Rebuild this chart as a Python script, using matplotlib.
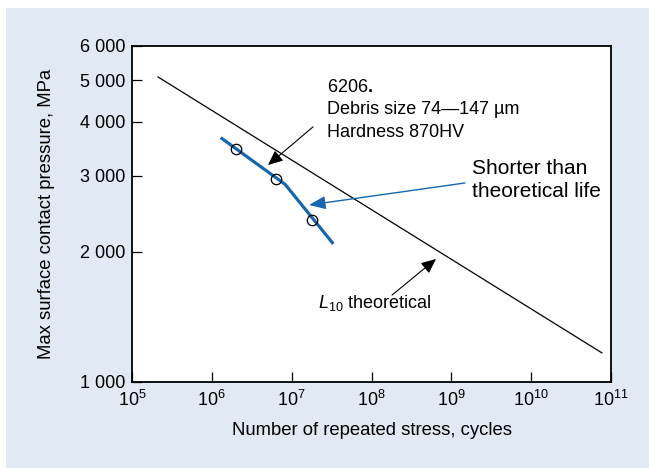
import matplotlib
matplotlib.use("Agg")
import matplotlib.pyplot as plt
from matplotlib.patches import Rectangle
from matplotlib.ticker import FixedLocator, NullLocator, FuncFormatter

plt.rcParams['font.family'] = ['Liberation Sans', 'DejaVu Sans']
plt.rcParams['mathtext.fontset'] = 'custom'
plt.rcParams['mathtext.rm'] = 'Liberation Sans'
plt.rcParams['mathtext.it'] = 'Liberation Sans:italic'
plt.rcParams['mathtext.bf'] = 'Liberation Sans:bold'

# L10 theoretical life line (cycles, MPa)
theory_cycles = [2.12e5, 7.7e10]
theory_pressure = [5085, 1165]

# measured life with debris contamination
test_cycles = [1.29e6, 8.26e6, 3.33e7]
test_pressure = [3678, 2867, 2085]
point_cycles = [2.01e6, 6.43e6, 1.78e7]
point_pressure = [3456, 2949, 2366]

x_ticks = [1e5, 1e6, 1e7, 1e8, 1e9, 1e10, 1e11]
y_ticks = [1000, 2000, 3000, 4000, 5000, 6000]

BLUE = '#1766b0'
PANEL = '#e1e9f4'

fig = plt.figure(figsize=(6.49, 4.68), dpi=100)
fig.patches.append(Rectangle((6 / 649, 0), 1 - 6 / 649, 460 / 468,
                             transform=fig.transFigure, facecolor=PANEL,
                             edgecolor='none', zorder=-1))

ax = fig.add_axes([132 / 649, 1 - 381.5 / 468, 479 / 649, 335.5 / 468])
ax.set_facecolor('white')
ax.set_xscale('log')
ax.set_yscale('log')
ax.set_xlim(x_ticks[0], x_ticks[-1])
ax.set_ylim(y_ticks[0], y_ticks[-1])

ax.plot(theory_cycles, theory_pressure, color='black', lw=0.9)
ax.plot(test_cycles, test_pressure, color=BLUE, lw=2.3, solid_capstyle='butt')
ax.plot(point_cycles, point_pressure, 'o', ms=7.5, mfc='none', mec='black',
        mew=0.9)

ax.xaxis.set_major_locator(FixedLocator(x_ticks))
ax.xaxis.set_minor_locator(NullLocator())
ax.yaxis.set_major_locator(FixedLocator(y_ticks))
ax.yaxis.set_minor_locator(NullLocator())
ax.yaxis.set_major_formatter(FuncFormatter(lambda v, p: f"{int(v):,}".replace(",", " ")))
ax.tick_params(direction='in', length=7, width=0.9, labelsize=13, pad=5)
ax.tick_params(axis='x', pad=6)
for s in ax.spines.values():
    s.set_linewidth(1.3)

ax.set_xlabel("Number of repeated stress, cycles", fontsize=13.3)
ax.set_ylabel("Max surface contact pressure, MPa", fontsize=13.3)
ax.xaxis.set_label_coords(0.5, -0.122)
ax.yaxis.set_label_coords(-0.16, 0.5)

# bearing / test conditions
info = ["6206$\\mathbf{.}$", "Debris size 74\u2014147 \u00b5m", "Hardness 870HV"]
for i, line in enumerate(info):
    ax.annotate(line, xy=(2.77e7, 4873), xytext=(0, -1.5 - 16.4 * i),
                textcoords='offset points', fontsize=13, va='center', ha='left')

ax.annotate("", xy=(5.06e6, 3178), xytext=(1.85e7, 3895),
            arrowprops=dict(arrowstyle='-|>,head_length=0.45,head_width=0.2',
                            color='black', lw=0.8, shrinkA=0, shrinkB=0,
                            mutation_scale=20))

ax.text(1.82e9, 2934, "Shorter than\ntheoretical life", fontsize=15,
        va='center', ha='left', linespacing=1.25)
ax.annotate("", xy=(1.65e7, 2567), xytext=(1.48e9, 2887),
            arrowprops=dict(arrowstyle='-|>,head_length=0.5,head_width=0.2',
                            color=BLUE, lw=1.0, shrinkA=0, shrinkB=0,
                            mutation_scale=20))

ax.text(2.14e7, 1520, "$L_{10}$ theoretical", fontsize=13, va='center',
        ha='left')
ax.annotate("", xy=(6.43e8, 1924), xytext=(1.81e8, 1587),
            arrowprops=dict(arrowstyle='-|>,head_length=0.45,head_width=0.2',
                            color='black', lw=0.8, shrinkA=0, shrinkB=0,
                            mutation_scale=20))

fig.savefig("out.png", dpi=100)
